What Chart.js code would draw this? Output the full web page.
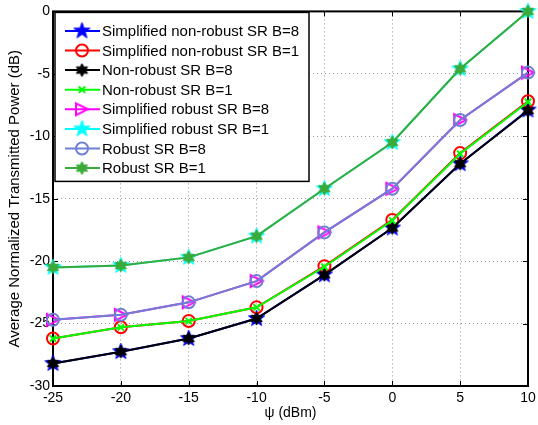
<!DOCTYPE html>
<html>
<head>
<meta charset="utf-8">
<script src="https://cdn.jsdelivr.net/npm/chart.js@4/dist/chart.umd.min.js"></script>
<style>
  body { margin: 0; background: #fff; }
  #wrap { width: 538px; height: 425px; }
</style>
</head>
<body>
<div id="wrap"><canvas id="powerChart"></canvas></div>
<script>
// values
const psi = [-25, -20, -15, -10, -5, 0, 5, 10];
const yTicks = [-30, -25, -20, -15, -10, -5, 0];

const simpNonRobustB8 = [-28.2, -27.25, -26.2, -24.6, -21.1, -17.35, -12.2, -7.9];
const simpNonRobustB1 = [-26.2, -25.3, -24.8, -23.7, -20.4, -16.7, -11.35, -7.2];
const nonRobustB8 = [-28.2, -27.25, -26.2, -24.6, -21.1, -17.35, -12.2, -7.95];
const nonRobustB1 = [-26.2, -25.3, -24.8, -23.7, -20.45, -16.75, -11.4, -7.25];
const simpRobustB8 = [-24.7, -24.3, -23.3, -21.6, -17.7, -14.2, -8.7, -4.9];
const simpRobustB1 = [-20.5, -20.35, -19.7, -18.0, -14.2, -10.5, -4.6, 0];
const robustB8 = [-24.7, -24.3, -23.3, -21.6, -17.7, -14.2, -8.7, -4.9];
const robustB1 = [-20.5, -20.35, -19.7, -18.0, -14.2, -10.5, -4.6, 0];

const seriesNames = [
    'Simplified non-robust SR B=8',
    'Simplified non-robust SR B=1',
    'Non-robust SR B=8',
    'Non-robust SR B=1',
    'Simplified robust SR B=8',
    'Simplified robust SR B=1',
    'Robust SR B=8',
    'Robust SR B=1'
];

// little canvases used as marker shapes
function starMarker(points, R, r, color) {
    const c = document.createElement('canvas');
    const s = Math.ceil(2 * R + 4);
    c.width = s; c.height = s;
    const g = c.getContext('2d');
    g.beginPath();
    for (let i = 0; i < points * 2; i++) {
        const rad = i % 2 === 0 ? R : r;
        const a = -Math.PI / 2 + i * Math.PI / points;
        const x = s / 2 + rad * Math.cos(a);
        const y = s / 2 + rad * Math.sin(a);
        if (i === 0) g.moveTo(x, y); else g.lineTo(x, y);
    }
    g.closePath();
    g.fillStyle = color;
    g.fill();
    g.strokeStyle = color;
    g.lineWidth = 1;
    g.stroke();
    return c;
}

function triRightMarker(size, color) {
    const c = document.createElement('canvas');
    const s = size + 4;
    c.width = s; c.height = s;
    const g = c.getContext('2d');
    const h = size / 2;
    g.beginPath();
    g.moveTo(s / 2 + h, s / 2);
    g.lineTo(s / 2 - h, s / 2 - h);
    g.lineTo(s / 2 - h, s / 2 + h);
    g.closePath();
    g.strokeStyle = color;
    g.lineWidth = 2;
    g.stroke();
    return c;
}

const blueStar = starMarker(5, 8.5, 3.4, '#0000ff');
const cyanStar = starMarker(5, 8.5, 3.4, '#00ffff');
const blackHex = starMarker(6, 6.5, 3.6, '#000000');
const greenHex = starMarker(6, 6.5, 3.6, '#3aaa3a');
const magentaTri = triRightMarker(12, '#ff00ff');

function series(label, data, color, style, radius, ord) {
    return {
        label: label,
        data: data,
        borderColor: color,
        backgroundColor: color,
        borderWidth: 2,
        pointStyle: style,
        pointRadius: radius,
        pointHoverRadius: radius,
        pointBorderWidth: 2,
        pointBorderColor: color,
        pointBackgroundColor: 'rgba(0,0,0,0)',
        tension: 0,
        clip: false,
        order: ord
    };
}

const datasets = [
    series(seriesNames[0], simpNonRobustB8, '#0000ff', blueStar, 8, 8),
    series(seriesNames[1], simpNonRobustB1, '#ff0000', 'circle', 6, 7),
    series(seriesNames[2], nonRobustB8, '#000000', blackHex, 6, 6),
    series(seriesNames[3], nonRobustB1, '#00ff00', 'crossRot', 4.5, 5),
    series(seriesNames[4], simpRobustB8, '#ff00ff', magentaTri, 6, 4),
    series(seriesNames[5], simpRobustB1, '#00ffff', cyanStar, 8, 3),
    series(seriesNames[6], robustB8, '#6f80d2', 'circle', 6, 2),
    series(seriesNames[7], robustB1, '#3aaa3a', greenHex, 6, 1)
];

// box round the plot with inward tick marks
const boxPlugin = {
    id: 'box',
    beforeDatasetsDraw(chart) {
        const ctx = chart.ctx;
        const a = chart.chartArea;
        const xs = chart.scales.x, ys = chart.scales.y;
        ctx.save();
        ctx.strokeStyle = '#000';
        ctx.lineWidth = 1;
        ctx.beginPath();
        psi.forEach(v => {
            const x = Math.round(xs.getPixelForValue(v)) + 0.5;
            ctx.moveTo(x, a.bottom); ctx.lineTo(x, a.bottom - 5);
            ctx.moveTo(x, a.top); ctx.lineTo(x, a.top + 5);
        });
        yTicks.forEach(v => {
            const y = Math.round(ys.getPixelForValue(v)) + 0.5;
            ctx.moveTo(a.left, y); ctx.lineTo(a.left + 5, y);
            ctx.moveTo(a.right, y); ctx.lineTo(a.right - 5, y);
        });
        ctx.stroke();
        ctx.lineWidth = 2;
        ctx.strokeRect(a.left, a.top, a.right - a.left, a.bottom - a.top);
        ctx.restore();
    }
};

// matlab style legend sitting in the top left corner
const legendPlugin = {
    id: 'boxLegend',
    afterDatasetsDraw(chart) {
        const ctx = chart.ctx;
        const a = chart.chartArea;
        const left = a.left + 2, top = a.top + 1;
        const w = 254, rowH = 19.6;
        const h = 169;
        ctx.save();
        ctx.fillStyle = '#fff';
        ctx.fillRect(left, top, w, h);
        ctx.strokeStyle = '#000';
        ctx.lineWidth = 1.5;
        ctx.strokeRect(left, top, w, h);
        ctx.font = '15px "Liberation Sans", Arial, sans-serif';
        ctx.textBaseline = 'middle';
        chart.data.datasets.forEach((ds, i) => {
            const y = top + 18.5 + i * rowH;
            ctx.strokeStyle = ds.borderColor;
            ctx.lineWidth = 2;
            ctx.beginPath();
            ctx.moveTo(left + 10, y);
            ctx.lineTo(left + 45, y);
            ctx.stroke();
            ctx.fillStyle = 'rgba(0,0,0,0)';
            ctx.strokeStyle = ds.borderColor;
            Chart.helpers.drawPoint(ctx, {
                pointStyle: ds.pointStyle,
                radius: ds.pointRadius,
                borderWidth: 2,
                rotation: 0
            }, left + 27, y);
            ctx.fillStyle = '#000';
            ctx.fillText(ds.label, left + 47, y + 1);
        });
        ctx.restore();
    }
};

const tickFont = { family: '"Liberation Sans", Arial, sans-serif', size: 14 };

new Chart(document.getElementById('powerChart'), {
    type: 'line',
    data: { labels: psi, datasets: datasets },
    options: {
        responsive: true,
        maintainAspectRatio: false,
        animation: false,
        layout: { padding: { top: 10, right: 7, left: 0, bottom: 0 } },
        plugins: {
            legend: { display: false },
            tooltip: { enabled: false }
        },
        scales: {
            x: {
                type: 'linear',
                min: -25,
                max: 10,
                afterBuildTicks: s => { s.ticks = psi.map(v => ({ value: v })); },
                afterFit: s => { s.height = 39; s.paddingRight = 0; },
                ticks: { color: '#000', font: tickFont, padding: 4, maxRotation: 0 },
                grid: { color: '#9a9a9a', drawTicks: false, lineWidth: 1 },
                border: { display: false, dash: [1, 3] },
                title: {
                    display: true,
                    text: 'ψ (dBm)',
                    color: '#000',
                    font: tickFont,
                    padding: { top: 0, bottom: 3 }
                }
            },
            y: {
                min: -30,
                max: 0,
                afterBuildTicks: s => { s.ticks = yTicks.map(v => ({ value: v })); },
                afterFit: s => { s.width = 53; },
                ticks: { color: '#000', font: tickFont, padding: 3 },
                grid: { color: '#9a9a9a', drawTicks: false, lineWidth: 1 },
                border: { display: false, dash: [1, 3] },
                title: {
                    display: true,
                    text: 'Average Normalized Transmitted Power (dB)',
                    color: '#000',
                    font: { family: '"Liberation Sans", Arial, sans-serif', size: 15 },
                    padding: { top: 6, bottom: 0 }
                }
            }
        }
    },
    plugins: [boxPlugin, legendPlugin]
});
</script>
</body>
</html>
